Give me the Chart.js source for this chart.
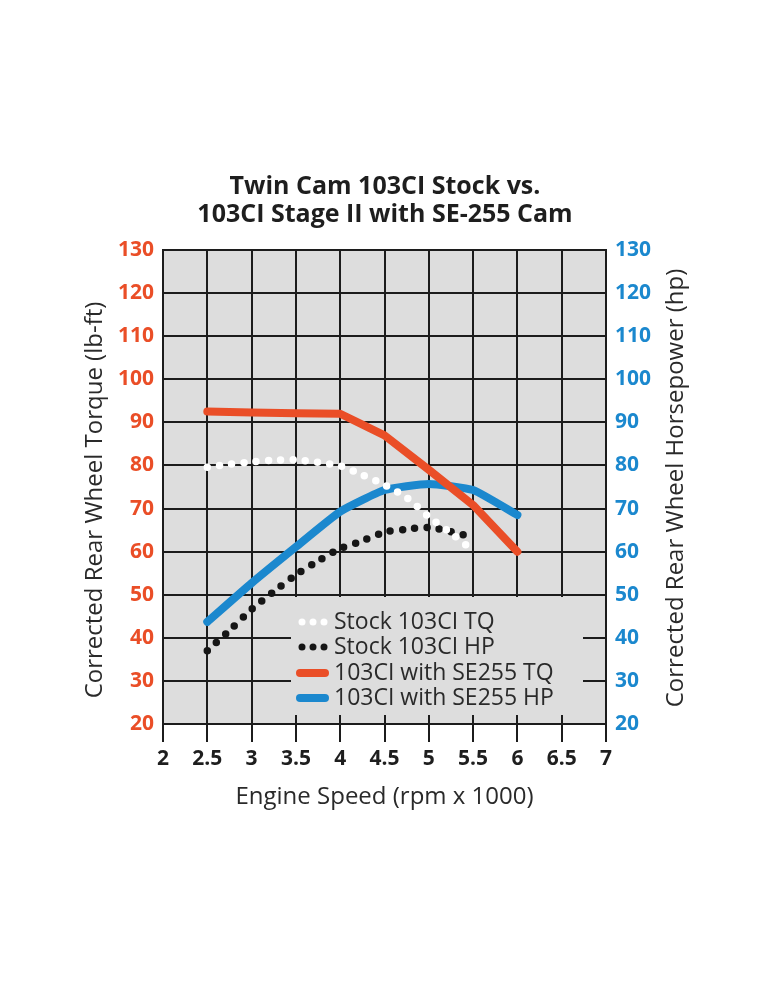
<!DOCTYPE html>
<html lang="en">
  <head>
    <meta charset="UTF-8" />
    <title>Twin Cam 103CI dyno</title>
    <script src="https://cdn.jsdelivr.net/npm/chart.js@4.4.1/dist/chart.umd.min.js"></script>
    <style>
      body { margin: 0; background: #fff; }
      #wrap { width: 770px; height: 990px; }
    </style>
  </head>
  <body>
    <div id="wrap"><canvas id="myChart"></canvas></div>
    <script>
      // values (rpm x 1000)
      const rpmStock = [2.5, 2.75, 3, 3.25, 3.5, 3.75, 4, 4.25, 4.5, 4.75, 5, 5.25, 5.5];
      const stockTq  = [79.6, 80.3, 80.8, 81.2, 81.3, 80.7, 79.9, 77.8, 75.5, 72.5, 68.1, 64.3, 60.2];
      const stockHp  = [37.0, 41.7, 46.6, 50.7, 54.6, 57.8, 60.7, 62.5, 64.5, 65.2, 65.6, 64.6, 63.3];
      const rpmStage = [2.5, 3, 3.5, 4, 4.5, 5, 5.5, 6];
      const stageTq  = [92.5, 92.3, 92.1, 92, 87, 79, 70.8, 60];
      const stageHp  = [43.7, 52.7, 61.1, 69.3, 74.3, 75.7, 74.3, 68.5];
      const labels = ['Stock 103CI TQ', 'Stock 103CI HP', '103CI with SE255 TQ', '103CI with SE255 HP'];

      const ORANGE = '#EA4E27';
      const BLUE = '#1B88CE';
      const GRID = '#1c1c1c';
      const TEXT = '#2a2a2a';

      function pts(xs, ys) {
        return xs.map((x, i) => ({ x: x, y: ys[i] }));
      }

      function sideTitle(ctx, text, x, y) {
        ctx.save();
        ctx.font = '24px "Open Sans"';
        ctx.fillStyle = TEXT;
        ctx.textAlign = 'center';
        ctx.textBaseline = 'middle';
        ctx.translate(x, y);
        ctx.rotate(-Math.PI / 2);
        ctx.fillText(text, 0, 0);
        ctx.restore();
      }

      // grey plot background + legend box inside the plot
      const plotBits = {
        id: 'plotBits',
        beforeDraw(chart) {
          const { ctx, chartArea: a } = chart;
          ctx.save();
          ctx.fillStyle = '#dddddd';
          ctx.fillRect(a.left, a.top, a.right - a.left, a.bottom - a.top);
          ctx.restore();
        },
        beforeDatasetsDraw(chart) {
          const { ctx } = chart;
          ctx.save();
          ctx.fillStyle = '#dddddd';
          ctx.fillRect(291, 597, 292, 118);
          ctx.restore();
        },
        afterDatasetsDraw(chart) {
          const { ctx } = chart;
          ctx.save();
          ctx.font = '23px "Open Sans"';
          ctx.textBaseline = 'middle';
          const rows = [622, 647, 673, 698];
          chart.data.datasets.forEach((ds, i) => {
            const y = rows[i];
            ctx.strokeStyle = ds.borderColor;
            ctx.lineCap = 'round';
            if (ds.borderDash) {
              ctx.fillStyle = ds.borderColor;
              [302, 313, 324].forEach(x => {
                ctx.beginPath();
                ctx.arc(x, y, 3.5, 0, Math.PI * 2);
                ctx.fill();
              });
            } else {
              ctx.lineWidth = 8;
              ctx.beginPath();
              ctx.moveTo(300, y);
              ctx.lineTo(325, y);
              ctx.stroke();
            }
            ctx.fillStyle = TEXT;
            ctx.fillText(ds.label, 334, y);
          });
          ctx.restore();
          // both axis titles read bottom to top
          sideTitle(ctx, 'Corrected Rear Wheel Torque (lb-ft)', 95, 500);
          sideTitle(ctx, 'Corrected Rear Wheel Horsepower (hp)', 676, 488);
        }
      };

      const ctx = document.getElementById('myChart').getContext('2d');
      const myChart = new Chart(ctx, {
        type: 'line',
        data: {
          datasets: [
            {
              label: labels[0],
              data: pts(rpmStock, stockTq),
              borderColor: '#ffffff',
              borderWidth: 7.5,
              borderDash: [0, 12.3],
              borderCapStyle: 'round',
              pointRadius: 0,
              tension: 0.3,
              yAxisID: 'y'
            },
            {
              label: labels[1],
              data: pts(rpmStock, stockHp),
              borderColor: '#161616',
              borderWidth: 7.5,
              borderDash: [0, 12.3],
              borderCapStyle: 'round',
              pointRadius: 0,
              tension: 0.3,
              yAxisID: 'y2'
            },
            {
              label: labels[2],
              data: pts(rpmStage, stageTq),
              borderColor: ORANGE,
              borderWidth: 8,
              borderCapStyle: 'round',
              borderJoinStyle: 'round',
              pointRadius: 0,
              yAxisID: 'y'
            },
            {
              label: labels[3],
              data: pts(rpmStage, stageHp),
              borderColor: BLUE,
              borderWidth: 8,
              borderCapStyle: 'round',
              borderJoinStyle: 'round',
              pointRadius: 0,
              tension: 0.15,
              yAxisID: 'y2'
            }
          ]
        },
        options: {
          responsive: true,
          maintainAspectRatio: false,
          animation: false,
          layout: { padding: 0 },
          plugins: {
            legend: { display: false },
            tooltip: { enabled: false },
            title: {
              display: true,
              text: ['Twin Cam 103CI Stock vs.', '103CI Stage II with SE-255 Cam'],
              color: '#1e1e1e',
              font: { family: 'Open Sans', size: 25, weight: 'bold', lineHeight: 1.12 },
              padding: { top: 173, bottom: 21 }
            }
          },
          scales: {
            x: {
              type: 'linear',
              min: 2,
              max: 7,
              afterFit: s => { s.height = 266; },
              ticks: {
                stepSize: 0.5,
                color: '#1e1e1e',
                padding: 4,
                maxRotation: 0,
                callback: v => String(v),
                font: { family: 'Open Sans', size: 21, weight: 'bold' }
              },
              grid: { color: GRID, lineWidth: 2, tickLength: 18, tickColor: GRID },
              border: { color: GRID, width: 2 },
              title: {
                display: true,
                text: 'Engine Speed (rpm x 1000)',
                color: TEXT,
                font: { family: 'Open Sans', size: 24 },
                padding: { top: 0, bottom: 178 }
              }
            },
            y: {
              position: 'left',
              min: 20,
              max: 130,
              afterFit: s => { s.width = 163; },
              ticks: {
                stepSize: 10,
                color: ORANGE,
                padding: 9,
                font: { family: 'Open Sans', size: 21, weight: 'bold' }
              },
              grid: { color: GRID, lineWidth: 2, drawTicks: false },
              border: { color: GRID, width: 2 }
            },
            y2: {
              position: 'right',
              min: 20,
              max: 130,
              afterFit: s => { s.width = 164; },
              ticks: {
                stepSize: 10,
                color: BLUE,
                padding: 9,
                font: { family: 'Open Sans', size: 21, weight: 'bold' }
              },
              grid: { display: false, drawTicks: false },
              border: { color: GRID, width: 2 }
            }
          }
        },
        plugins: [plotBits]
      });
    </script>
  </body>
</html>
